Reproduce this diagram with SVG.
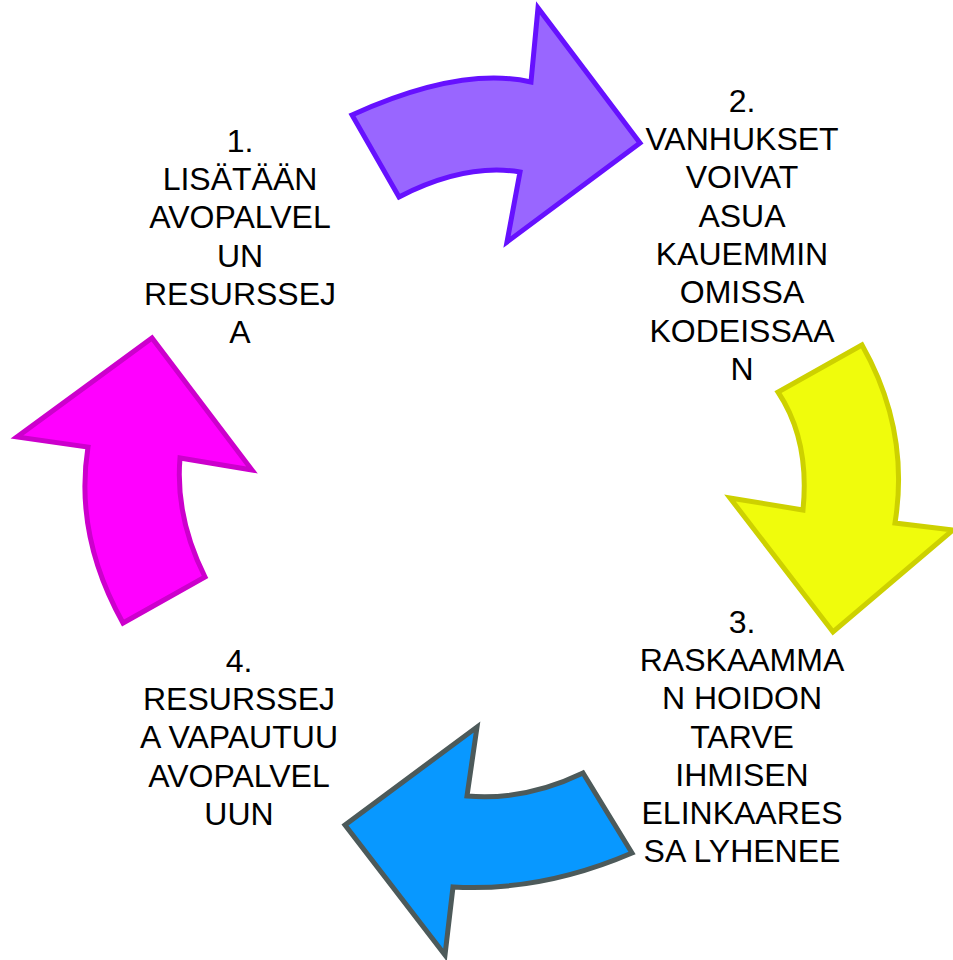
<svg xmlns="http://www.w3.org/2000/svg" width="953" height="960" viewBox="0 0 953 960">
<style>
text { font-family: "Liberation Sans", Arial, sans-serif; font-size: 32px; fill: #000; text-anchor: middle; }
.arr { stroke-width: 5; stroke-linejoin: miter; }
</style>
<rect width="953" height="960" fill="#ffffff"/>
<g id="connectors">
  <path id="arrow-purple" class="arr" fill="#9966ff" stroke="#6611ff" d="M352,115 Q460,66 531,82 L538,8 L640,143 L507,242 L520,172 Q465,163 399,197 Z"/>
  <path id="arrow-yellow" class="arr" fill="#f0fc0c" stroke="#cdd100" d="M862,345 Q910,430 895,523 L953,530 L833,632 L730,498 L803,510 Q810,440 778,392 Z"/>
  <path id="arrow-blue" class="arr" fill="#0898ff" stroke="#4d5a5a" d="M632,853 Q541,892 453,887 L445,955 L345,825 L477,727 L467,796 Q525,801 583,773 Z"/>
  <path id="arrow-magenta" class="arr" fill="#ff00ff" stroke="#cc00cc" d="M123,623 Q74,535 88,447 L17,437 L152,338 L252,470 L180,458 Q175,517 205,577 Z"/>
</g>
<g id="node1">
  <text x="240" y="152">1.</text>
  <text x="240" y="190">LISÄTÄÄN</text>
  <text x="240" y="228">AVOPALVEL</text>
  <text x="240" y="267">UN</text>
  <text x="240" y="305">RESURSSEJ</text>
  <text x="240" y="343">A</text>
</g>
<g id="node2">
  <text x="742" y="112">2.</text>
  <text x="742" y="150">VANHUKSET</text>
  <text x="742" y="188">VOIVAT</text>
  <text x="742" y="227">ASUA</text>
  <text x="742" y="265">KAUEMMIN</text>
  <text x="742" y="303">OMISSA</text>
  <text x="742" y="342">KODEISSAA</text>
  <text x="742" y="380">N</text>
</g>
<g id="node3">
  <text x="742" y="633">3.</text>
  <text x="742" y="671">RASKAAMMA</text>
  <text x="742" y="709">N HOIDON</text>
  <text x="742" y="748">TARVE</text>
  <text x="742" y="786">IHMISEN</text>
  <text x="742" y="824">ELINKAARES</text>
  <text x="742" y="862">SA LYHENEE</text>
</g>
<g id="node4">
  <text x="239" y="672">4.</text>
  <text x="239" y="710">RESURSSEJ</text>
  <text x="239" y="748">A VAPAUTUU</text>
  <text x="239" y="787">AVOPALVEL</text>
  <text x="239" y="825">UUN</text>
</g>
</svg>
